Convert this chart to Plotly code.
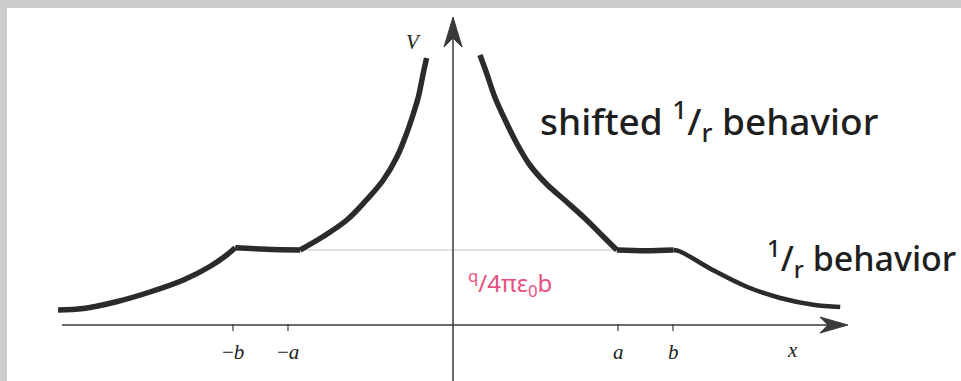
import plotly.graph_objects as go

# ---- data (x in units where a=3, b=4; V in units of q/(4*pi*eps0*b)) ----
# outer 1/r tails
X_TAIL_L = [-7.18, -6.72, -6.12, -5.51, -4.90, -4.42, -4.12, -3.96]
V_TAIL_L = [0.20, 0.22, 0.31, 0.44, 0.60, 0.78, 0.93, 1.03]
X_TAIL_R = [4.01, 4.13, 4.73, 5.34, 5.95, 6.55, 7.04]
V_TAIL_R = [1.00, 0.98, 0.73, 0.51, 0.36, 0.27, 0.24]
# flat part between a and b
X_FLAT_L = [-3.96, -3.39, -2.78]
V_FLAT_L = [1.03, 1.01, 1.00]
X_FLAT_R = [2.98, 3.50, 4.01]
V_FLAT_R = [1.00, 0.99, 1.00]
# shifted 1/r inside a
X_IN_L = [-2.78, -2.36, -1.93, -1.57, -1.27, -1.02, -0.84, -0.72, -0.63, -0.54, -0.48]
V_IN_L = [1.00, 1.18, 1.40, 1.67, 1.93, 2.24, 2.56, 2.82, 3.04, 3.36, 3.56]
X_IN_R = [0.49, 0.61, 0.76, 0.95, 1.16, 1.40, 1.70, 2.07, 2.43, 2.73, 2.98]
V_IN_R = [3.60, 3.36, 3.04, 2.73, 2.42, 2.13, 1.88, 1.64, 1.40, 1.18, 1.00]

PLATEAU = 1.0
PLATEAU_SPAN = [-2.75, 2.98]
TICK_POS = [-4, -3, 3, 4]
TICK_TEXT = ["−<i>b</i>", "−<i>a</i>", "<i>a</i>", "<i>b</i>"]
X_AXIS_SPAN = [-7.11, 7.18]
Y_AXIS_TOP = 4.107
X_RANGE = [-8.236, 9.236]
Y_RANGE = [-0.7467, 4.3333]

W, H = 961, 381
CURVE = "#2b2b2b"
AXIS = "#3a3a3a"

fig = go.Figure()


def seg(xs, vs, width=5.5):
    fig.add_trace(go.Scatter(x=xs, y=vs, mode="lines",
                             line=dict(color=CURVE, width=width, shape="spline", smoothing=1.0),
                             hoverinfo="skip", showlegend=False))


seg(X_TAIL_L, V_TAIL_L)
seg(X_FLAT_L, V_FLAT_L)
seg(X_IN_L, V_IN_L)
seg(X_IN_R, V_IN_R)
seg(X_FLAT_R, V_FLAT_R)
seg(X_TAIL_R, V_TAIL_R, width=4.5)

# pixel -> data scale helpers
sx = (X_RANGE[1] - X_RANGE[0]) / W
sy = (Y_RANGE[1] - Y_RANGE[0]) / H

shapes = []
# plateau guide line
shapes.append(dict(type="line", xref="x", yref="y", x0=PLATEAU_SPAN[0], x1=PLATEAU_SPAN[1],
                   y0=PLATEAU, y1=PLATEAU, line=dict(color="#c4c4c4", width=1), layer="below"))
# x axis
shapes.append(dict(type="line", xref="x", yref="y", x0=X_AXIS_SPAN[0], x1=X_AXIS_SPAN[1] - 20 * sx,
                   y0=0, y1=0, line=dict(color=AXIS, width=1.5)))
tip = X_AXIS_SPAN[1]
shapes.append(dict(type="path", xref="x", yref="y",
                   path=f"M {tip},0 L {tip-28*sx},{8*sy} L {tip-20*sx},0 L {tip-28*sx},{-8*sy} Z",
                   fillcolor=AXIS, line=dict(color=AXIS, width=1)))
# y axis
shapes.append(dict(type="line", xref="x", yref="y", x0=0, x1=0,
                   y0=Y_RANGE[0], y1=Y_AXIS_TOP - 20 * sy, line=dict(color=AXIS, width=1.5)))
shapes.append(dict(type="path", xref="x", yref="y",
                   path=f"M 0,{Y_AXIS_TOP} L {9*sx},{Y_AXIS_TOP-30*sy} L 0,{Y_AXIS_TOP-21*sy} L {-9*sx},{Y_AXIS_TOP-30*sy} Z",
                   fillcolor=AXIS, line=dict(color=AXIS, width=1)))
# ticks
for t in TICK_POS:
    shapes.append(dict(type="line", xref="x", yref="y", x0=t, x1=t, y0=1 * sy, y1=-6 * sy,
                       line=dict(color=AXIS, width=1.2)))
# gray frame bands
shapes.append(dict(type="rect", xref="paper", yref="paper", x0=0, x1=1, y0=1 - 8 / H, y1=1,
                   fillcolor="#cccccc", line=dict(width=0)))
shapes.append(dict(type="rect", xref="paper", yref="paper", x0=0, x1=7 / W, y0=0, y1=1,
                   fillcolor="#cccccc", line=dict(width=0)))

annotations = []
serif = dict(family="Liberation Serif", size=21, color="#222222")
for t, txt in zip(TICK_POS, TICK_TEXT):
    annotations.append(dict(x=t, y=-27 * sy, xref="x", yref="y", text=txt, showarrow=False,
                            font=serif, xanchor="center", yanchor="middle"))
annotations.append(dict(x=(792 - 453) * sx, y=-25 * sy, xref="x", yref="y", text="<i>x</i>",
                        showarrow=False, font=serif, xanchor="center", yanchor="middle"))
annotations.append(dict(x=-40 * sx, y=283 * sy, xref="x", yref="y", text="<i>V</i>",
                        showarrow=False, font=serif, xanchor="center", yanchor="middle"))
hand = dict(family="Noto Sans", size=37, color="#1f1f1f", weight=500)
annotations.append(dict(x=(538 - 453) * sx, y=(325 - 120) * sy, xref="x", yref="y",
                        text="shifted <sup>1</sup>/<sub>r</sub> behavior", showarrow=False, font=hand,
                        xanchor="left", yanchor="middle"))
annotations.append(dict(x=(958 - 453) * sx, y=(325 - 258) * sy, xref="x", yref="y",
                        text="<sup>1</sup>/<sub>r</sub> behavior", showarrow=False,
                        font=dict(family="Noto Sans", size=34, color="#1f1f1f", weight=500),
                        xanchor="right", yanchor="middle"))
annotations.append(dict(x=(466 - 453) * sx, y=(325 - 283) * sy, xref="x", yref="y",
                        text="<sup>q</sup>/4πε<sub>0</sub>b", showarrow=False,
                        font=dict(family="Noto Sans", size=24, color="#e5507e"),
                        xanchor="left", yanchor="middle"))

fig.update_layout(
    width=W, height=H, margin=dict(l=0, r=0, t=0, b=0),
    paper_bgcolor="white", plot_bgcolor="white",
    xaxis=dict(range=X_RANGE, visible=False, fixedrange=True),
    yaxis=dict(range=Y_RANGE, visible=False, fixedrange=True),
    shapes=shapes, annotations=annotations, showlegend=False,
)

fig.write_html("out.html", config={"displayModeBar": False, "staticPlot": True},
               post_script="document.body.style.margin='0';document.body.style.overflow='hidden';")
